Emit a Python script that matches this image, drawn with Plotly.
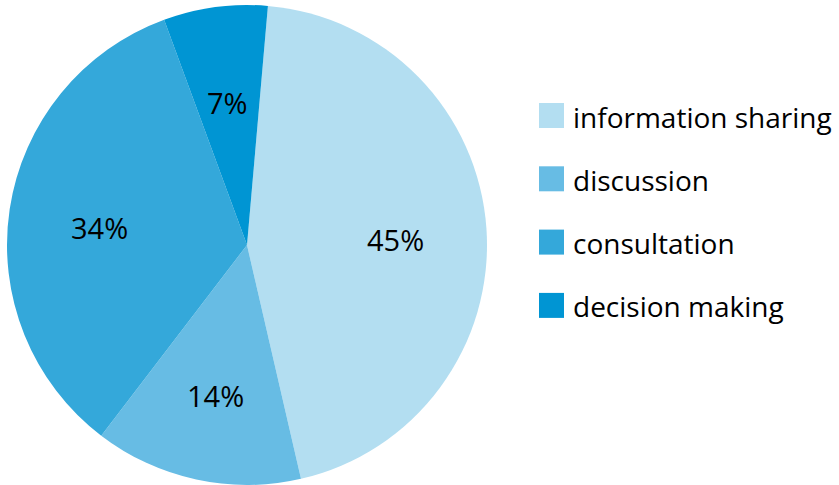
import math
import plotly.graph_objects as go

labels = ["information sharing", "discussion", "consultation", "decision making"]
values = [45, 14, 34, 7]
colors = ["#B3DEF1", "#67BCE4", "#34A8DA", "#0095D3"]

FONT = "Open Sans"
W, H = 839, 485
ROTATION = 5  # degrees clockwise from 12 o'clock where first slice begins

# pie geometry in pixels
cx, cy, R = 247, 245, 240

fig = go.Figure()
fig.add_trace(go.Pie(
    labels=labels,
    values=values,
    marker=dict(colors=colors, line=dict(width=0)),
    sort=False,
    direction="clockwise",
    rotation=ROTATION,
    textinfo="none",
    showlegend=False,
    hoverinfo="label+percent",
    domain=dict(x=[(cx - R) / W, (cx + R) / W], y=[1 - (cy + R) / H, 1 - (cy - R) / H]),
))

# percentage labels placed along each slice's bisector
total = sum(values)
annots = []
acc = 0
for v in values:
    mid = ROTATION + (acc + v / 2) / total * 360
    acc += v
    r = 0.62 * R
    px = cx + r * math.sin(math.radians(mid))
    py = cy - r * math.cos(math.radians(mid)) + 5
    annots.append(dict(text=f"{round(100 * v / total)}%", xref="paper", yref="paper",
                       x=px / W, y=1 - py / H, xanchor="center", yanchor="middle",
                       showarrow=False, font=dict(family=FONT, size=29, color="#000000")))

# Legend (built from the label/color lists)
lx0, ly0, step, box = 539, 115.5, 63.3, 25
shapes = []
for i, (lab, col) in enumerate(zip(labels, colors)):
    yc = ly0 + i * step
    shapes.append(dict(type="rect", xref="paper", yref="paper",
                       x0=lx0 / W, x1=(lx0 + box) / W,
                       y0=1 - (yc + box / 2) / H, y1=1 - (yc - box / 2) / H,
                       fillcolor=col, line=dict(width=0)))
    annots.append(dict(text=lab, xref="paper", yref="paper",
                       x=571 / W, y=1 - (yc + 1) / H, xanchor="left", yanchor="middle",
                       showarrow=False, font=dict(family=FONT, size=28, color="#000000")))

fig.update_layout(
    width=W, height=H,
    margin=dict(l=0, r=0, t=0, b=0),
    paper_bgcolor="white", plot_bgcolor="white",
    shapes=shapes, annotations=annots,
)

fig.write_html("out.html", config={"displayModeBar": False},
               post_script="document.body.style.margin='0';document.body.style.overflow='hidden';")
